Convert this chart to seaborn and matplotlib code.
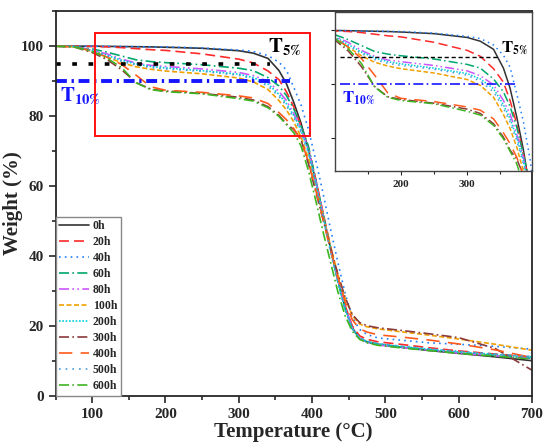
import numpy as np
import pandas as pd
import seaborn as sns
import matplotlib.pyplot as plt
from matplotlib.patches import Rectangle
from matplotlib.ticker import MultipleLocator, FixedLocator

# temperature grid (°C)
temp = [50, 75, 100, 120, 140, 160, 180, 200, 250, 300, 320, 340, 355, 365, 375,
        385, 395, 405, 415, 425, 435, 445, 455, 465, 475, 490, 520, 560, 600, 650, 700]

# weight (%) per ageing time
w_0h = [100, 100, 100, 99.95, 99.9, 99.85, 99.8, 99.7, 99.4, 98.7, 98.0, 96.5, 93.0, 89.3, 84.0,
        78.0, 70.5, 61.5, 52, 42.5, 33.5, 25.5, 19.5, 16.5, 15.5, 14.8, 14.0, 13.0, 12.2, 11.2, 10.1]
w_20h = [100, 100, 99.9, 99.8, 99.6, 99.3, 99.0, 98.8, 97.8, 96.3, 95.2, 92.9, 90.4, 87.0, 82.7,
         77.2, 71, 62, 52.5, 43, 34, 26, 20, 17.2, 16.2, 15.5, 14.8, 13.8, 12.9, 12.0, 11.2]
w_40h = [100, 100, 100, 99.95, 99.9, 99.85, 99.8, 99.8, 99.5, 98.9, 98.5, 97.3, 95.4, 93.2, 88.3,
         83.2, 76.3, 67.5, 58, 48, 38.5, 29.5, 22.5, 19, 17.6, 16.6, 16.0, 15.2, 14.8, 14.2, 13.4]
w_60h = [100, 99.9, 99.2, 98.3, 97.2, 96.1, 95.6, 95.3, 94.7, 93.7, 93.0, 91.0, 88.6, 85.9, 82.1,
         77.1, 71.5, 62, 52, 42.5, 33, 25, 19.2, 16.4, 15.4, 14.7, 14.0, 13.2, 12.4, 11.6, 10.8]
w_80h = [100, 99.9, 98.9, 97.8, 96.3, 95.2, 94.5, 94.2, 93.5, 92.5, 91.6, 89.9, 87.0, 84.5, 80.8,
         76.5, 70.5, 61.5, 52, 42.5, 33.5, 25.5, 19.5, 16.5, 15.4, 14.6, 13.9, 13.1, 12.3, 11.5, 10.8]
w_100h = [100, 99.8, 98.5, 96.9, 95.3, 94.1, 93.4, 92.9, 92.1, 90.9, 89.8, 87.6, 84.4, 81.8, 78.4,
          74.0, 68, 60, 51.5, 43, 35, 28, 23, 20.6, 19.8, 19.2, 18.4, 17.4, 16.3, 14.8, 13.1]
w_200h = [100, 99.9, 98.8, 97.4, 96.0, 94.9, 94.2, 93.8, 93.0, 92.0, 91.0, 89.2, 86.2, 83.6, 80.2,
          75.9, 70, 61, 51.5, 42, 33, 25, 19.3, 16.6, 15.6, 14.9, 14.2, 13.4, 12.6, 11.9, 11.2]
w_300h = [100, 99.8, 98.2, 96.2, 93.3, 89.6, 87.7, 87.2, 86.5, 85.4, 84.6, 82.7, 80.2, 77.8, 76.2,
          73.2, 66.5, 58.5, 50.5, 42.5, 35, 28.3, 23.3, 21, 20.1, 19.5, 18.8, 17.8, 16.7, 13.6, 7.4]
w_400h = [100, 99.8, 98.7, 96.9, 94.8, 91.7, 88.4, 87.4, 86.8, 85.8, 85.2, 83.6, 81.0, 79.0, 76.5,
          73.2, 67, 59, 50.5, 42, 34, 27, 21.8, 19.2, 18.3, 17.5, 16.9, 16.0, 14.9, 13.2, 11.0]
w_500h = [100, 99.9, 98.7, 97.2, 95.7, 94.6, 93.9, 93.5, 92.8, 91.7, 90.6, 88.6, 85.6, 83.0, 79.6,
          75.3, 69.5, 60.5, 51, 41.5, 32.5, 24.7, 19.2, 16.6, 15.7, 15.0, 14.3, 13.5, 12.8, 12.0, 11.3]
w_600h = [100, 99.8, 98.5, 96.6, 93.9, 89.5, 87.6, 87.0, 86.4, 85.0, 84.3, 82.4, 79.9, 77.6, 75.3,
          71.5, 64.5, 56, 47, 38.5, 30, 23, 18.5, 16.2, 15.2, 14.5, 13.8, 13.0, 12.2, 11.4, 10.6]

labels = ['0h', '20h', '40h', '60h', '80h', '100h', '200h', '300h', '400h', '500h', '600h']
weights = [w_0h, w_20h, w_40h, w_60h, w_80h, w_100h, w_200h, w_300h, w_400h, w_500h, w_600h]
colors = ['#333333', '#ff2a2a', '#1f7fff', '#00a86b', '#cc55ff', '#f0a000',
          '#00d0d8', '#8b3a3a', '#ff5a1a', '#4a9bd6', '#3cb521']
dashes = [None, (6, 3), (1, 2.5), (6, 2, 1, 2), (6, 2, 1, 2, 1, 2), (3, 1.5),
          (1, 1), (6, 2, 1, 2), (8, 5), (1, 3), (6, 2, 1, 2)]

df = pd.DataFrame({'temp': np.tile(temp, len(labels)),
                   'weight': np.concatenate(weights),
                   'sample': np.repeat(labels, len(temp))})

sns.set_style('ticks')
plt.rcParams['font.family'] = ['Liberation Serif', 'DejaVu Serif']
plt.rcParams['font.weight'] = 'bold'
plt.rcParams['mathtext.fontset'] = 'stix'

fig = plt.figure(figsize=(5.5, 4.48), dpi=100)
ax = fig.add_axes([0.101, 0.116, 0.866, 0.859])
ins = fig.add_axes([0.609, 0.618, 0.358, 0.355])


def draw(a, lw):
    for lab, c, d in zip(labels, colors, dashes):
        sub = df[df['sample'] == lab]
        sns.lineplot(data=sub, x='temp', y='weight', ax=a, color=c, lw=lw, label=lab, legend=False)
        if d is not None:
            a.lines[-1].set_dashes(d)


draw(ax, 1.2)
draw(ins, 1.1)

# main reference lines
ax.plot([50, 342], [95, 95], color='black', lw=2.6, ls=(0, (1.3, 3.2)))
ax.plot([50, 370], [90, 90], color='#1515ff', lw=2.8, ls=(0, (2.8, 1.2, 0.6, 1.2)))
ax.text(340, 100.0, r'$\mathbf{T}_{\mathbf{5\%}}$', fontsize=15, va='center', ha='left', color='black')
ax.text(56, 85.8, r'$\mathbf{T}_{\mathbf{10\%}}$', fontsize=15, va='center', ha='left', color='#1515ff')
ax.add_patch(Rectangle((104, 74.3), 293, 29.4, fill=False, edgecolor='#ff1010', lw=1.4, zorder=5))

ax.set_xlim(50, 700)
ax.set_ylim(0, 110)
ax.xaxis.set_major_locator(MultipleLocator(100))
ax.xaxis.set_minor_locator(MultipleLocator(50))
ax.yaxis.set_major_locator(MultipleLocator(20))
ax.yaxis.set_minor_locator(MultipleLocator(10))
ax.tick_params(which='both', direction='out', width=1.2, labelsize=11)
ax.tick_params(which='major', length=5)
ax.tick_params(which='minor', length=3)
ax.set_xlabel('Temperature (°C)', fontsize=15, fontweight='bold', labelpad=1)
ax.set_ylabel('Weight (%)', fontsize=15, fontweight='bold')
ax.yaxis.set_label_coords(-0.068, 0.5)
for s in ax.spines.values():
    s.set_linewidth(1.3)
    s.set_visible(True)

leg = ax.legend(handles=ax.lines[:len(labels)], labels=labels, loc='lower left',
                borderaxespad=0, fontsize=8.5, handlelength=2.5, handletextpad=0.35,
                labelspacing=0.34, borderpad=0.3, fancybox=False, framealpha=1,
                edgecolor='#888888')
for t in leg.get_texts():
    t.set_fontweight('bold')

# inset
ins.plot([108, 347], [95, 95], color='black', lw=1.0, ls=(0, (3, 2)))
ins.plot([108, 372], [90, 90], color='#1515ff', lw=1.2, ls=(0, (6, 2, 1, 2)))
ins.text(352, 96.7, r'$\mathbf{T}_{\mathbf{5\%}}$', fontsize=12, va='center', ha='left', color='black')
ins.text(110, 87.5, r'$\mathbf{T}_{\mathbf{10\%}}$', fontsize=12, va='center', ha='left', color='#1515ff')
ins.set_xlim(100, 398)
ins.set_ylim(73.9, 103.4)
ins.xaxis.set_major_locator(FixedLocator([200, 300]))
ins.xaxis.set_minor_locator(FixedLocator([150, 250, 350]))
ins.yaxis.set_major_locator(FixedLocator([80, 90, 100]))
ins.set_yticklabels([])
ins.tick_params(which='both', direction='out', width=0.8, labelsize=8)
ins.tick_params(which='major', length=3)
ins.tick_params(which='minor', length=2)
ins.set_xlabel('')
ins.set_ylabel('')
for s in ins.spines.values():
    s.set_linewidth(1.0)
    s.set_color('#444444')
    s.set_visible(True)

fig.savefig('out.png', dpi=100)
